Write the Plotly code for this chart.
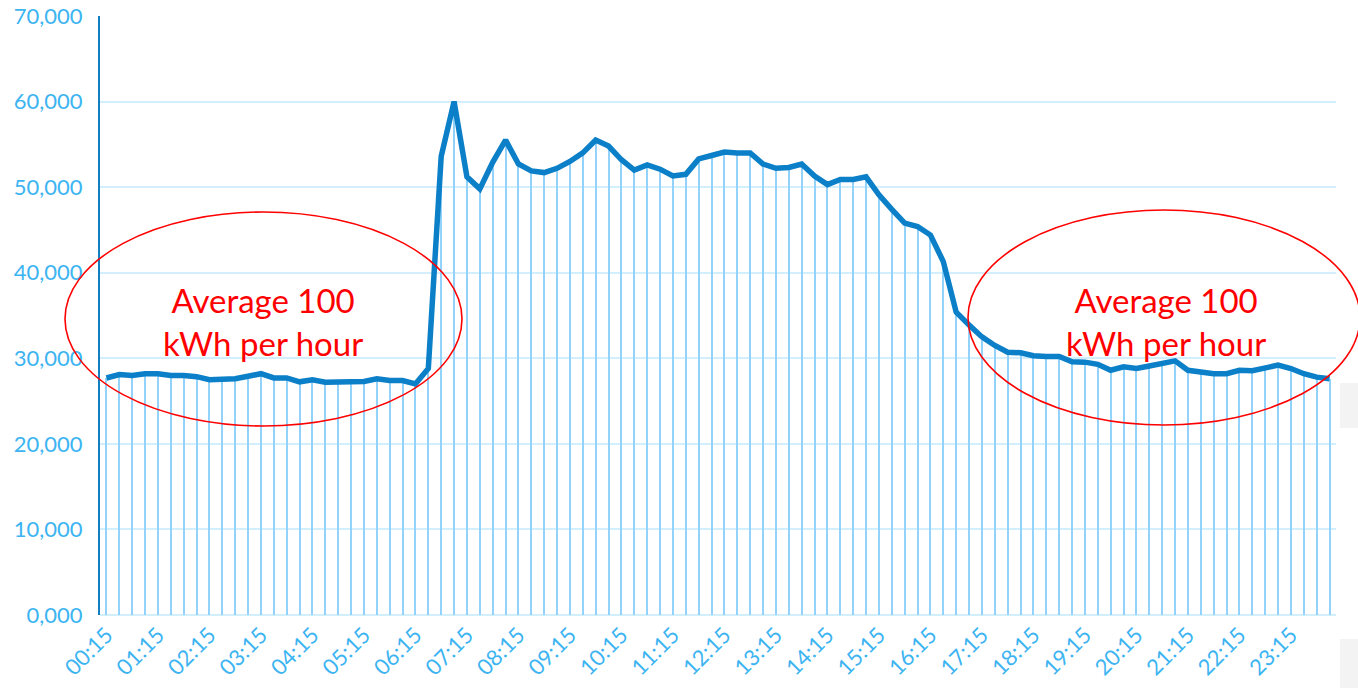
import plotly.graph_objects as go

# 15-minute interval loads, 00:15 .. 24:00
times = [f"{(m // 60):02d}:{(m % 60):02d}" for m in range(15, 24 * 60 + 1, 15)]
load = [
    27700, 28100, 28000, 28200, 28200, 28000, 28000, 27850, 27500, 27550, 27600, 27900,
    28200, 27700, 27700, 27250, 27500, 27200, 27250, 27300, 27300, 27600, 27400, 27400,
    27000, 28800, 53600, 60000, 51200, 49800, 52900, 55500, 52700, 51900, 51700, 52200,
    53000, 54000, 55500, 54800, 53200, 52000, 52600, 52100, 51300, 51500, 53300, 53700,
    54100, 54000, 54000, 52700, 52200, 52300, 52700, 51300, 50300, 50900, 50900, 51200,
    49100, 47400, 45800, 45400, 44400, 41300, 35400, 33900, 32500, 31500, 30700, 30650,
    30300, 30200, 30200, 29600, 29550, 29300, 28600, 29000, 28800, 29100, 29400, 29700,
    28600, 28400, 28200, 28200, 28600, 28550, 28900, 29200, 28800, 28200, 27800, 27600,
]
x_tick_labels = times[0::4]
y_tick_vals = [0, 10000, 20000, 30000, 40000, 50000, 60000, 70000]
y_tick_text = ["0,000", "10,000", "20,000", "30,000", "40,000", "50,000", "60,000", "70,000"]
note_text = "Average 100<br>kWh per hour"

LBL = "#3db4f2"
fig = go.Figure()
fig.add_trace(go.Bar(x=times, y=load, width=0.16, marker=dict(color="#93d3fb", line=dict(width=0)),
                     hoverinfo="skip"))
fig.add_trace(go.Scatter(x=times, y=load, mode="lines", line=dict(color="#0b7fc7", width=5.5)))

fig.update_layout(
    width=1358, height=688,
    margin=dict(l=100, r=22, t=16, b=73, autoexpand=False),
    paper_bgcolor="white", plot_bgcolor="white",
    showlegend=False, bargap=0,
    font=dict(family="Lato", color=LBL, size=20),
)
fig.update_xaxes(
    type="category", range=[-0.5, len(times) - 0.5], automargin=False,
    tickmode="array", tickvals=x_tick_labels, ticktext=x_tick_labels,
    tickangle=-45, showgrid=False, showline=False, ticks="", ticklabelstandoff=2,
    tickfont=dict(family="Lato", size=22, color=LBL),
)
fig.update_yaxes(
    range=[0, 70000], tickvals=y_tick_vals, ticktext=y_tick_text, automargin=False,
    showgrid=True, gridcolor="#d3eefc", gridwidth=2,
    zeroline=True, zerolinecolor="#d3eefc", zerolinewidth=2,
    showline=True, linecolor="#127fc2", linewidth=2,
    ticks="", ticklabelstandoff=11, ticklabeloverflow="allow",
    tickfont=dict(family="Lato", size=22, color=LBL),
)

def px_x(p):
    return (p - 100) / 1236

def px_y(p):
    return (615 - p) / 599

shapes = [
    dict(type="circle", xref="paper", yref="paper", x0=px_x(65), x1=px_x(462), y0=px_y(426), y1=px_y(212),
         line=dict(color="#ff0000", width=1.6)),
    dict(type="circle", xref="paper", yref="paper", x0=px_x(968), x1=px_x(1360), y0=px_y(425), y1=px_y(210),
         line=dict(color="#ff0000", width=1.6)),
    dict(type="rect", xref="paper", yref="paper", x0=px_x(1340), x1=px_x(1358), y0=px_y(428), y1=px_y(383),
         fillcolor="#f3f3f3", line=dict(width=0), layer="below"),
    dict(type="rect", xref="paper", yref="paper", x0=px_x(1340), x1=px_x(1358), y0=px_y(688), y1=px_y(639),
         fillcolor="#f3f3f3", line=dict(width=0), layer="below"),
]
fig.update_layout(shapes=shapes)
for cx in (263, 1166):
    fig.add_annotation(xref="paper", yref="paper", x=px_x(cx), y=px_y(321), text=note_text,
                       showarrow=False, font=dict(family="Lato", size=33, color="#ff0000"),
                       align="center", xanchor="center", yanchor="middle")

fig.write_html("out.html", config={"displayModeBar": False},
               post_script="document.body.style.margin='0px';document.body.style.overflow='hidden';")
